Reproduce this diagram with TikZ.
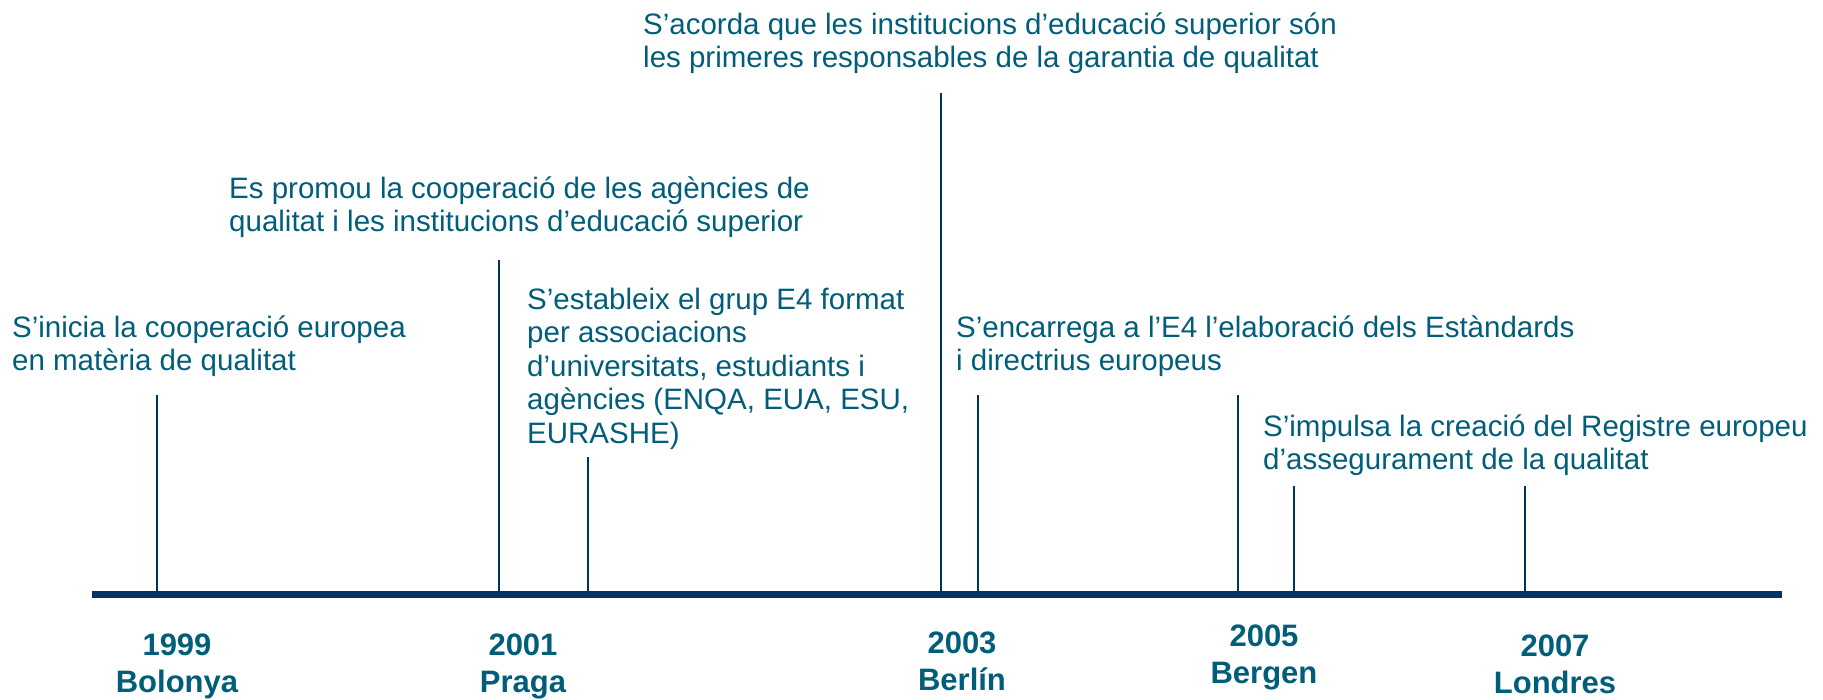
\documentclass[tikz,border=0pt]{standalone}
\usepackage{fontspec}
\setmainfont{Liberation Sans}
\definecolor{txt}{RGB}{0,94,122}
\definecolor{navy}{RGB}{0,51,102}
\newcommand\tstrut{\rule{0pt}{28pt}}
\newcommand\ystrut{\rule{0pt}{32pt}}
\tikzset{
  event/.style={anchor=north west,inner sep=0pt,align=left,text=txt,
    font={\fontsize{29.5}{33.5}\selectfont}},
  yearlbl/.style={anchor=north,inner sep=0pt,align=center,text=txt,
    font={\fontsize{31}{37}\selectfont\bfseries}},
  tick/.style={draw=navy,line width=2pt},
  axisline/.style={draw=navy,line width=7pt}
}
\begin{document}
\begin{tikzpicture}[x=1pt,y=-1pt]
\useasboundingbox[fill=white] (0,0) rectangle (1823,699);
% axis
\coordinate (a0) at (92,594);
\coordinate (a1) at (1782,594);
\draw[axisline] (a0) -- (a1);
% ticks
\foreach \n/\x/\t in {k1/157/395,k2/499/260,k3/588/457,k4/941/93,k5/978/395,k6/1238/395,k7/1294/486,k8/1525/486}{
  \coordinate (\n top) at (\x,\t);
  \coordinate (\n bot) at (\x,591);
  \draw[tick] (\n top) -- (\n bot);
}
% event texts
\node[event] (e1) at (12,309) {\tstrut S’inicia la cooperació europea\\en matèria de qualitat};
\node[event] (e2) at (229,170) {\tstrut Es promou la cooperació de les agències de\\qualitat i les institucions d’educació superior};
\node[event] (e3) at (527,281) {\tstrut S’estableix el grup E4 format\\per associacions\\d’universitats, estudiants i\\agències (ENQA, EUA, ESU,\\EURASHE)};
\node[event] (e4) at (643,6) {\tstrut S’acorda que les institucions d’educació superior són\\les primeres responsables de la garantia de qualitat};
\node[event] (e5) at (956,309) {\tstrut S’encarrega a l’E4 l’elaboració dels Estàndards\\i directrius europeus};
\node[event] (e6) at (1263,408) {\tstrut S’impulsa la creació del Registre europeu\\d’assegurament de la qualitat};
% years
\node[yearlbl] (y1) at (177,623) {\ystrut 1999\\Bolonya};
\node[yearlbl] (y2) at (523,623) {\ystrut 2001\\Praga};
\node[yearlbl] (y3) at (962,621) {\ystrut 2003\\Berlín};
\node[yearlbl] (y4) at (1264,614) {\ystrut 2005\\Bergen};
\node[yearlbl] (y5) at (1555,624) {\ystrut 2007\\Londres};
\end{tikzpicture}
\end{document}
